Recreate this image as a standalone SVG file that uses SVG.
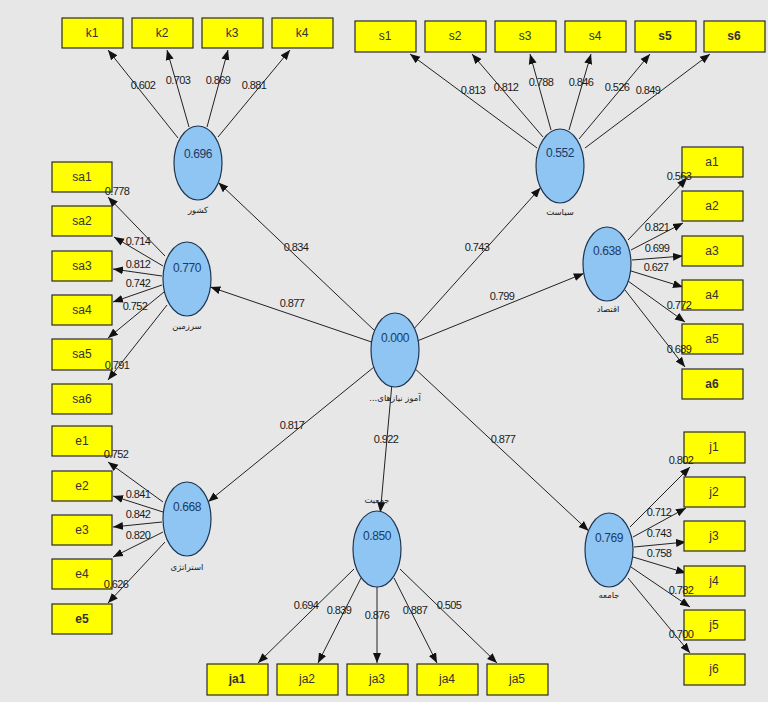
<svg xmlns="http://www.w3.org/2000/svg" width="768" height="711" viewBox="0 0 768 711">
<defs>
<marker id="ah" viewBox="0 0 10 10" refX="10" refY="5" markerWidth="10" markerHeight="10" markerUnits="userSpaceOnUse" orient="auto">
<path d="M0,1 L10,5 L0,9 z" fill="#111"/>
</marker>
<style>
.bx{fill:#ffff00;stroke:#2a2a2a;stroke-width:1.2}
.bt{font-family:"Liberation Sans",Arial,sans-serif;font-size:12px;fill:#333;text-anchor:middle}
.bb{font-weight:bold}
.lv{fill:#8ec5f2;stroke:#1e3550;stroke-width:1.2}
.lt{font-family:"Liberation Sans",Arial,sans-serif;font-size:12px;fill:#1c3a66;text-anchor:middle;letter-spacing:-0.4px}
.ln{font-family:"DejaVu Sans",sans-serif;font-size:8.5px;fill:#222;text-anchor:middle}
.c line{stroke:#222;stroke-width:1;marker-end:url(#ah)}
.w{font-family:"Liberation Sans",Arial,sans-serif;font-size:11px;fill:#1a1a1a;text-anchor:middle;letter-spacing:-0.6px}
</style>
</defs>
<rect x="0" y="0" width="768" height="711" fill="#e7e7e7"/>
<rect x="0" y="702" width="768" height="9" fill="#ffffff"/>

<g id="connectors" class="c">
<line x1="374.6" y1="330.6" x2="218.4" y2="182.4"/>
<line x1="371.6" y1="342" x2="210.4" y2="287"/>
<line x1="414.4" y1="328.3" x2="540.6" y2="187.7"/>
<line x1="418.2" y1="340.6" x2="583.8" y2="273.4"/>
<line x1="373.8" y1="367.2" x2="208.2" y2="501.8"/>
<line x1="391.7" y1="386.6" x2="380.3" y2="512.4"/>
<line x1="415.5" y1="369.2" x2="588.5" y2="530.8"/>
<line x1="178" y1="138" x2="108" y2="50"/>
<line x1="189" y1="127" x2="167" y2="50"/>
<line x1="207" y1="127" x2="228" y2="50"/>
<line x1="218" y1="137" x2="290" y2="50"/>
<line x1="537" y1="148" x2="410" y2="54"/>
<line x1="543" y1="137" x2="472" y2="54"/>
<line x1="551" y1="130" x2="530" y2="54"/>
<line x1="569" y1="130" x2="591" y2="54"/>
<line x1="579" y1="139" x2="650" y2="54"/>
<line x1="585" y1="148" x2="710" y2="54"/>
<line x1="165" y1="256" x2="108" y2="197"/>
<line x1="163" y1="266" x2="114" y2="237"/>
<line x1="162" y1="276" x2="113" y2="269"/>
<line x1="162" y1="285" x2="113" y2="302"/>
<line x1="164" y1="292" x2="108" y2="338"/>
<line x1="167" y1="305" x2="108" y2="380"/>
<line x1="628" y1="240" x2="687" y2="178"/>
<line x1="631" y1="250" x2="683" y2="223"/>
<line x1="632" y1="260" x2="683" y2="256"/>
<line x1="631" y1="271" x2="683" y2="287"/>
<line x1="628" y1="281" x2="685" y2="322"/>
<line x1="625" y1="290" x2="685" y2="367"/>
<line x1="163" y1="502" x2="108" y2="462"/>
<line x1="163" y1="512" x2="113" y2="496"/>
<line x1="162" y1="522" x2="113" y2="527"/>
<line x1="163" y1="532" x2="113" y2="557"/>
<line x1="165" y1="542" x2="108" y2="603"/>
<line x1="630" y1="527" x2="690" y2="467"/>
<line x1="633" y1="537" x2="686" y2="508"/>
<line x1="634" y1="547" x2="686" y2="542"/>
<line x1="633" y1="557" x2="686" y2="573"/>
<line x1="631" y1="567" x2="690" y2="607"/>
<line x1="628" y1="578" x2="690" y2="653"/>
<line x1="354" y1="569" x2="258" y2="663"/>
<line x1="361" y1="578" x2="318" y2="663"/>
<line x1="377" y1="587" x2="377" y2="663"/>
<line x1="394" y1="578" x2="437" y2="663"/>
<line x1="400" y1="569" x2="497" y2="663"/>
</g>

<g id="lv-center"><ellipse class="lv" cx="395" cy="350" rx="24" ry="37"/><text class="lt" x="395" y="342">0.000</text><text class="ln" x="395" y="401">...آموز نیازهای</text></g>
<g id="lv-keshvar"><ellipse class="lv" cx="198" cy="163" rx="24" ry="37"/><text class="lt" x="198" y="158">0.696</text><text class="ln" x="198" y="213">کشور</text></g>
<g id="lv-siasat"><ellipse class="lv" cx="560" cy="166" rx="24" ry="37"/><text class="lt" x="560" y="157">0.552</text><text class="ln" x="560" y="215">سیاست</text></g>
<g id="lv-sarzamin"><ellipse class="lv" cx="187" cy="279" rx="24" ry="37"/><text class="lt" x="187" y="272">0.770</text><text class="ln" x="187" y="329">سرزمین</text></g>
<g id="lv-eqtesad"><ellipse class="lv" cx="607" cy="264" rx="24" ry="37"/><text class="lt" x="607" y="255">0.638</text><text class="ln" x="608" y="312">اقتصاد</text></g>
<g id="lv-strategy"><ellipse class="lv" cx="187" cy="519" rx="24" ry="37"/><text class="lt" x="187" y="511">0.668</text><text class="ln" x="187" y="570">استراتژی</text></g>
<g id="lv-jamiat"><ellipse class="lv" cx="377" cy="549" rx="24" ry="38"/><text class="lt" x="377" y="540">0.850</text><text class="ln" x="377" y="503">جمعیت</text></g>
<g id="lv-jamee"><ellipse class="lv" cx="609" cy="550" rx="24" ry="37"/><text class="lt" x="609" y="542">0.769</text><text class="ln" x="609" y="598">جامعه</text></g>

<g id="k1"><rect class="bx" x="62" y="18" width="61" height="30"/><text class="bt" x="92" y="37">k1</text></g>
<g id="k2"><rect class="bx" x="132" y="18" width="61" height="30"/><text class="bt" x="162" y="37">k2</text></g>
<g id="k3"><rect class="bx" x="202" y="18" width="61" height="30"/><text class="bt" x="232" y="37">k3</text></g>
<g id="k4"><rect class="bx" x="272" y="18" width="61" height="30"/><text class="bt" x="302" y="37">k4</text></g>

<g id="s1"><rect class="bx" x="355" y="21" width="61" height="31"/><text class="bt" x="385" y="40">s1</text></g>
<g id="s2"><rect class="bx" x="425" y="21" width="61" height="31"/><text class="bt" x="455" y="40">s2</text></g>
<g id="s3"><rect class="bx" x="495" y="21" width="61" height="31"/><text class="bt" x="525" y="40">s3</text></g>
<g id="s4"><rect class="bx" x="565" y="21" width="61" height="31"/><text class="bt" x="595" y="40">s4</text></g>
<g id="s5"><rect class="bx" x="635" y="21" width="61" height="31"/><text class="bt bb" x="665" y="40">s5</text></g>
<g id="s6"><rect class="bx" x="704" y="21" width="61" height="31"/><text class="bt bb" x="734" y="40">s6</text></g>

<g id="sa1"><rect class="bx" x="52" y="162" width="60" height="30"/><text class="bt" x="82" y="181">sa1</text></g>
<g id="sa2"><rect class="bx" x="52" y="206" width="60" height="30"/><text class="bt" x="82" y="225">sa2</text></g>
<g id="sa3"><rect class="bx" x="52" y="251" width="60" height="30"/><text class="bt" x="82" y="270">sa3</text></g>
<g id="sa4"><rect class="bx" x="52" y="295" width="60" height="30"/><text class="bt" x="82" y="314">sa4</text></g>
<g id="sa5"><rect class="bx" x="52" y="339" width="60" height="31"/><text class="bt" x="82" y="358">sa5</text></g>
<g id="sa6"><rect class="bx" x="52" y="384" width="60" height="30"/><text class="bt" x="82" y="403">sa6</text></g>

<g id="a1"><rect class="bx" x="682" y="147" width="61" height="30"/><text class="bt" x="712" y="166">a1</text></g>
<g id="a2"><rect class="bx" x="682" y="191" width="61" height="30"/><text class="bt" x="712" y="210">a2</text></g>
<g id="a3"><rect class="bx" x="682" y="236" width="61" height="30"/><text class="bt" x="712" y="255">a3</text></g>
<g id="a4"><rect class="bx" x="682" y="280" width="61" height="30"/><text class="bt" x="712" y="299">a4</text></g>
<g id="a5"><rect class="bx" x="682" y="324" width="61" height="30"/><text class="bt" x="712" y="343">a5</text></g>
<g id="a6"><rect class="bx" x="682" y="369" width="61" height="30"/><text class="bt bb" x="712" y="388">a6</text></g>

<g id="e1"><rect class="bx" x="52" y="426" width="60" height="30"/><text class="bt" x="82" y="445">e1</text></g>
<g id="e2"><rect class="bx" x="52" y="471" width="60" height="30"/><text class="bt" x="82" y="490">e2</text></g>
<g id="e3"><rect class="bx" x="52" y="515" width="60" height="30"/><text class="bt" x="82" y="534">e3</text></g>
<g id="e4"><rect class="bx" x="52" y="559" width="60" height="30"/><text class="bt" x="82" y="578">e4</text></g>
<g id="e5"><rect class="bx" x="52" y="604" width="60" height="30"/><text class="bt bb" x="82" y="623">e5</text></g>

<g id="j1"><rect class="bx" x="684" y="432" width="61" height="31"/><text class="bt" x="714" y="451">j1</text></g>
<g id="j2"><rect class="bx" x="684" y="477" width="61" height="30"/><text class="bt" x="714" y="496">j2</text></g>
<g id="j3"><rect class="bx" x="684" y="521" width="61" height="30"/><text class="bt" x="714" y="540">j3</text></g>
<g id="j4"><rect class="bx" x="684" y="566" width="61" height="30"/><text class="bt" x="714" y="585">j4</text></g>
<g id="j5"><rect class="bx" x="684" y="610" width="61" height="30"/><text class="bt" x="714" y="629">j5</text></g>
<g id="j6"><rect class="bx" x="684" y="654" width="61" height="31"/><text class="bt" x="714" y="673">j6</text></g>

<g id="ja1"><rect class="bx" x="207" y="664" width="61" height="31"/><text class="bt bb" x="237" y="683">ja1</text></g>
<g id="ja2"><rect class="bx" x="277" y="664" width="61" height="31"/><text class="bt" x="307" y="683">ja2</text></g>
<g id="ja3"><rect class="bx" x="347" y="664" width="61" height="31"/><text class="bt" x="377" y="683">ja3</text></g>
<g id="ja4"><rect class="bx" x="417" y="664" width="61" height="31"/><text class="bt" x="447" y="683">ja4</text></g>
<g id="ja5"><rect class="bx" x="487" y="664" width="61" height="31"/><text class="bt" x="517" y="683">ja5</text></g>

<g id="weights" class="w">
<text x="296" y="251">0.834</text>
<text x="292" y="307">0.877</text>
<text x="477" y="251">0.743</text>
<text x="502" y="300">0.799</text>
<text x="292" y="429">0.817</text>
<text x="386" y="443">0.922</text>
<text x="503" y="443">0.877</text>
<text x="143" y="89">0.602</text>
<text x="178" y="84">0.703</text>
<text x="218" y="84">0.869</text>
<text x="254" y="89">0.881</text>
<text x="473" y="94">0.813</text>
<text x="506" y="91">0.812</text>
<text x="541" y="86">0.788</text>
<text x="581" y="86">0.846</text>
<text x="617" y="91">0.526</text>
<text x="648" y="94">0.849</text>
<text x="117" y="195">0.778</text>
<text x="138" y="245">0.714</text>
<text x="138" y="268">0.812</text>
<text x="138" y="287">0.742</text>
<text x="135" y="310">0.752</text>
<text x="117" y="369">0.791</text>
<text x="679" y="180">0.563</text>
<text x="657" y="231">0.821</text>
<text x="657" y="252">0.699</text>
<text x="656" y="271">0.627</text>
<text x="679" y="309">0.772</text>
<text x="679" y="353">0.689</text>
<text x="116" y="458">0.752</text>
<text x="138" y="498">0.841</text>
<text x="138" y="518">0.842</text>
<text x="138" y="539">0.820</text>
<text x="116" y="588">0.626</text>
<text x="681" y="464">0.802</text>
<text x="659" y="516">0.712</text>
<text x="659" y="537">0.743</text>
<text x="659" y="557">0.758</text>
<text x="681" y="594">0.782</text>
<text x="681" y="638">0.700</text>
<text x="306" y="609">0.694</text>
<text x="339" y="614">0.839</text>
<text x="377" y="619">0.876</text>
<text x="415" y="614">0.887</text>
<text x="449" y="609">0.505</text>
</g>
</svg>
